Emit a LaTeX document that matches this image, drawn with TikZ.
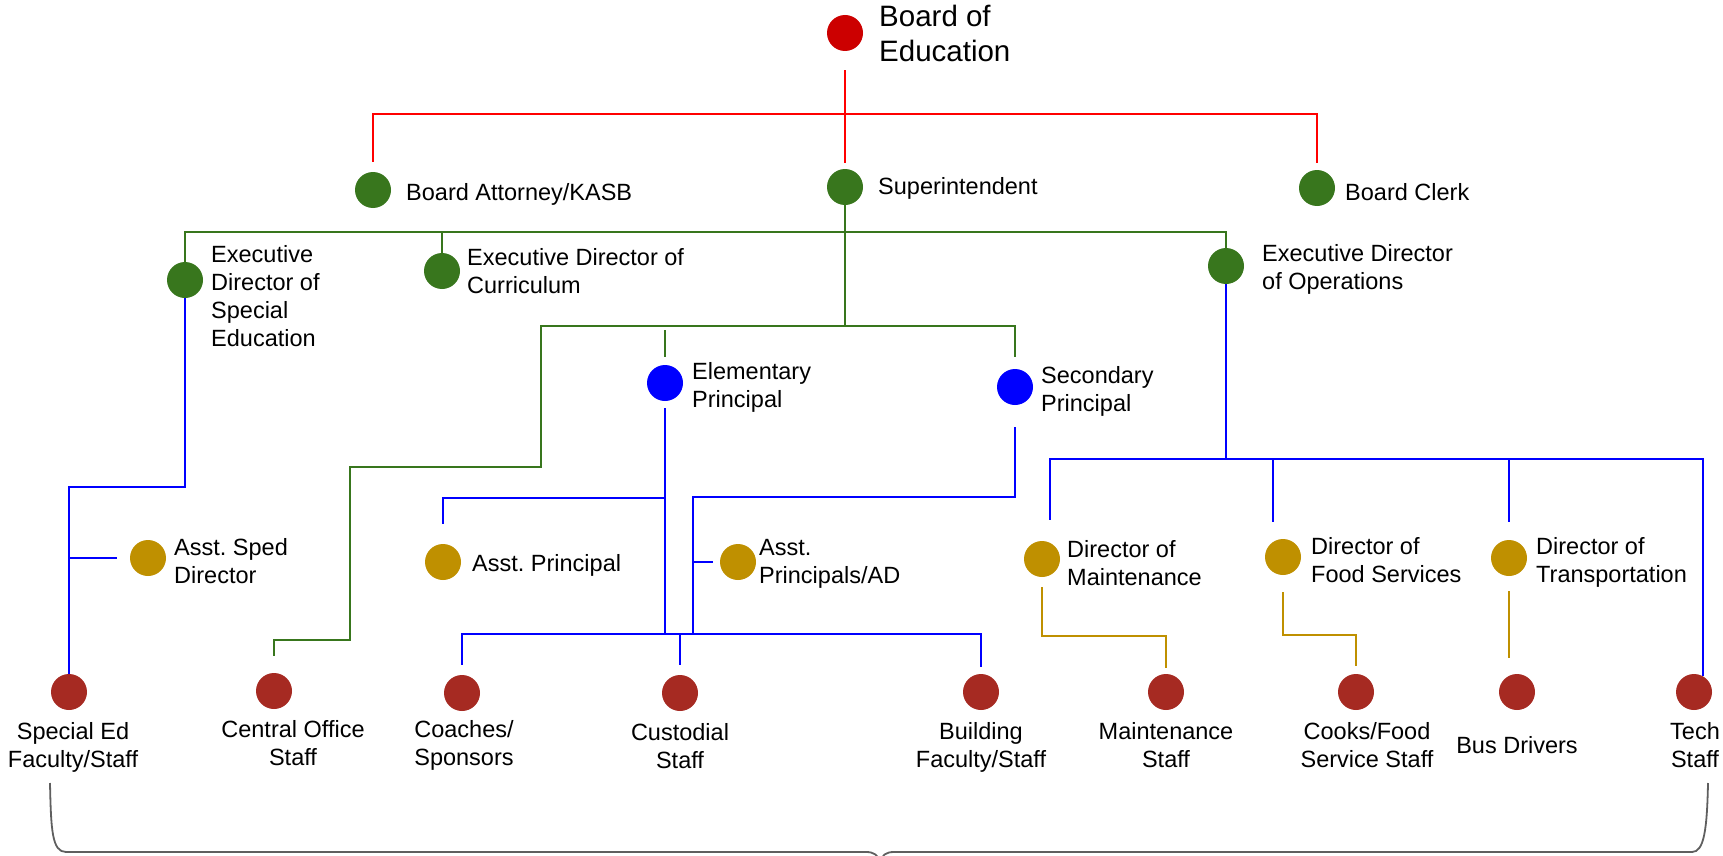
\documentclass[tikz,border=0pt]{standalone}
\usepackage{fontspec}
\setmainfont{Liberation Sans}
\usepackage{xcolor}
\definecolor{boardred}{HTML}{CC0000}
\definecolor{linered}{HTML}{FF0000}
\definecolor{admgreen}{HTML}{38761D}
\definecolor{prnblue}{HTML}{0000FF}
\definecolor{dirgold}{HTML}{BF9000}
\definecolor{stfred}{HTML}{A62A22}
\definecolor{bracegray}{HTML}{5F5F5F}
\frenchspacing
\tikzset{
  circ/.style={circle, minimum size=36pt, inner sep=0pt, draw=none},
  topc/.style={circ, fill=boardred},
  admc/.style={circ, fill=admgreen},
  prnc/.style={circ, fill=prnblue},
  dirc/.style={circ, fill=dirgold},
  stfc/.style={circ, fill=stfred},
  lbl/.style={inner sep=0pt, anchor=north west, align=left, font=\fontsize{23.5}{28}\selectfont},
  slbl/.style={inner sep=0pt, anchor=north, align=center, font=\fontsize{23.5}{27.5}\selectfont},
  toplbl/.style={inner sep=0pt, anchor=north west, align=left, font=\fontsize{29.5}{35}\selectfont},
  redln/.style={draw=linered, line width=2pt},
  grnln/.style={draw=admgreen, line width=2pt},
  bluln/.style={draw=prnblue, line width=2pt},
  goldln/.style={draw=dirgold, line width=2pt},
  bracel/.style={draw=bracegray, line width=1.8pt},
}
\begin{document}
\begin{tikzpicture}[x=1pt,y=1pt,yscale=-1,xscale=1]
    \useasboundingbox (0,0) rectangle (1723,856);

    %Shape: Circle
    \node[topc] (boe) at (845,33) {};
    \node[admc] (att) at (373,190) {};
    \node[admc] (sup) at (845,187) {};
    \node[admc] (clerk) at (1317,188) {};
    \node[admc] (exsped) at (185,280) {};
    \node[admc] (excurr) at (442,271) {};
    \node[admc] (exops) at (1226,266) {};
    \node[prnc] (elem) at (665,383) {};
    \node[prnc] (sec) at (1015,387) {};
    \node[dirc] (asped) at (148,558) {};
    \node[dirc] (aprin) at (443,562) {};
    \node[dirc] (aprad) at (738,562) {};
    \node[dirc] (dmaint) at (1042,559) {};
    \node[dirc] (dfood) at (1283,557) {};
    \node[dirc] (dtrans) at (1509,558) {};
    \node[stfc] (sped) at (69,692) {};
    \node[stfc] (central) at (274,691) {};
    \node[stfc] (coach) at (462,693) {};
    \node[stfc] (cust) at (680,693) {};
    \node[stfc] (build) at (981,692) {};
    \node[stfc] (mstaff) at (1166,692) {};
    \node[stfc] (cooks) at (1356,692) {};
    \node[stfc] (bus) at (1517,692) {};
    \node[stfc] (tech) at (1694,692) {};

    % Text Node
    \node[toplbl] (boelbl) at (879,5) {Board of\\Education};
    \node[lbl] (attlbl) at (406,183.5) {Board Attorney/KASB};
    \node[lbl] (suplbl) at (878,177.5) {Superintendent};
    \node[lbl] (clerklbl) at (1345,183.5) {Board Clerk};
    \node[lbl] (exspedlbl) at (211,245.5) {Executive\\Director of\\Special\\Education};
    \node[lbl] (excurrlbl) at (467,248.5) {Executive Director of\\Curriculum};
    \node[lbl] (exopslbl) at (1262,244.5) {Executive Director\\of Operations};
    \node[lbl] (elemlbl) at (692,362.5) {Elementary\\Principal};
    \node[lbl] (seclbl) at (1041,366.5) {Secondary\\Principal};
    \node[lbl] (aspedlbl) at (174,538.5) {Asst. Sped\\Director};
    \node[lbl] (aprinlbl) at (472,554.5) {Asst. Principal};
    \node[lbl] (apradlbl) at (759,539.5) {Asst.\\Principals/AD};
    \node[lbl] (dmaintlbl) at (1067,540.5) {Director of\\Maintenance};
    \node[lbl] (dfoodlbl) at (1311,537.5) {Director of\\Food Services};
    \node[lbl] (dtranslbl) at (1536,537.5) {Director of\\Transportation};
    % Text Node
    \node[slbl] (spedlbl) at (73,722.5) {Special Ed\\Faculty/Staff};
    \node[slbl] (centrallbl) at (293,720.5) {Central Office\\Staff};
    \node[slbl] (coachlbl) at (464,720.5) {Coaches/\\Sponsors};
    \node[slbl] (custlbl) at (680,723.5) {Custodial\\Staff};
    \node[slbl] (buildlbl) at (981,722.5) {Building\\Faculty/Staff};
    \node[slbl] (mstafflbl) at (1166,722.5) {Maintenance\\Staff};
    \node[slbl] (cookslbl) at (1367,722.5) {Cooks/Food\\Service Staff};
    \node[slbl] (buslbl) at (1517,736.5) {Bus Drivers};
    \node[slbl] (techlbl) at (1695,722.5) {Tech\\Staff};

    % bus levels
    \coordinate (rbus) at (0,114);
    \coordinate (gbus) at (0,232);
    \coordinate (pbus) at (0,326);
    \coordinate (obus) at (0,459);
    \coordinate (spbus) at (0,487);
    \coordinate (abus) at (0,498);
    \coordinate (sbus) at (0,634);
    \coordinate (mbus) at (0,636);
    \coordinate (fbus) at (0,635);
    \coordinate (adx) at (693,497);
    \coordinate (dmx) at ([xshift=8pt]dmaint.north);
    \coordinate (dfx) at ([xshift=-10pt]dfood.north);

    %Straight Lines
    \draw[redln, shorten <=19pt, shorten >=6pt] (boe.south) -- (sup.north);
    \draw[redln, shorten <=10pt, shorten >=7pt] (att.north) |- (rbus -| clerk.north) -- (clerk.north);
    %Straight Lines
    \draw[grnln] (exsped.north) |- (gbus -| exops.north) -- (exops.north);
    \draw[grnln] (excurr.north) -- (excurr.north |- gbus);
    \draw[grnln] (sup.south) -- (sup.south |- pbus);
    \draw[grnln, shorten <=17pt, shorten >=12pt] (central.north) |- (350,640) |- (541,467) |- (pbus -| sec.north) -- (sec.north);
    \draw[grnln, shorten <=4pt, shorten >=8pt] (pbus -| elem.north) -- (elem.north);
    %Straight Lines
    \draw[bluln] (exsped.south) |- (spbus -| sped.north) -- (sped.north);
    \draw[bluln, shorten >=13pt] (asped.west -| sped.north) -- (asped.west);
    \draw[bluln, shorten <=7pt] (elem.south) -- (sbus -| elem.south);
    \draw[bluln, shorten >=20pt] (abus -| elem.south) -| (aprin.north);
    \draw[bluln, shorten <=22pt] (sec.south) |- (adx) -- (adx |- sbus);
    \draw[bluln, shorten >=7pt] (aprad.west -| adx) -- (aprad.west);
    \draw[bluln, shorten <=10pt, shorten >=7pt] (coach.north) |- (sbus -| build.north) -- (build.north);
    \draw[bluln, shorten >=10pt] (sbus -| cust.north) -- (cust.north);
    \draw[bluln] (exops.south) -- (obus -| exops.south);
    \draw[bluln, shorten <=21pt] (dmx) |- (obus -| tech.60) -- (tech.60);
    \draw[bluln, shorten >=17pt] (obus -| dfx) -- (dfx);
    \draw[bluln, shorten >=18pt] (obus -| dtrans.north) -- (dtrans.north);
    %Straight Lines
    \draw[goldln, shorten <=10pt, shorten >=6pt] (dmaint.south) |- (mbus -| mstaff.north) -- (mstaff.north);
    \draw[goldln, shorten <=17pt, shorten >=8pt] (dfood.south) |- (fbus -| cooks.north) -- (cooks.north);
    \draw[goldln, shorten <=15pt, shorten >=16pt] (dtrans.south) -- (dtrans.south |- bus.north);

    %Shape: Brace
    \draw[bracel] (50,783) .. controls (51,830) and (52,852) .. (66,852) -- (866,852) .. controls (874,852) and (878,855) .. (880,862);
    \draw[bracel] (1708,783) .. controls (1707,830) and (1704,852) .. (1692,852) -- (894,852) .. controls (886,852) and (882,855) .. (880,862);
\end{tikzpicture}
\end{document}
